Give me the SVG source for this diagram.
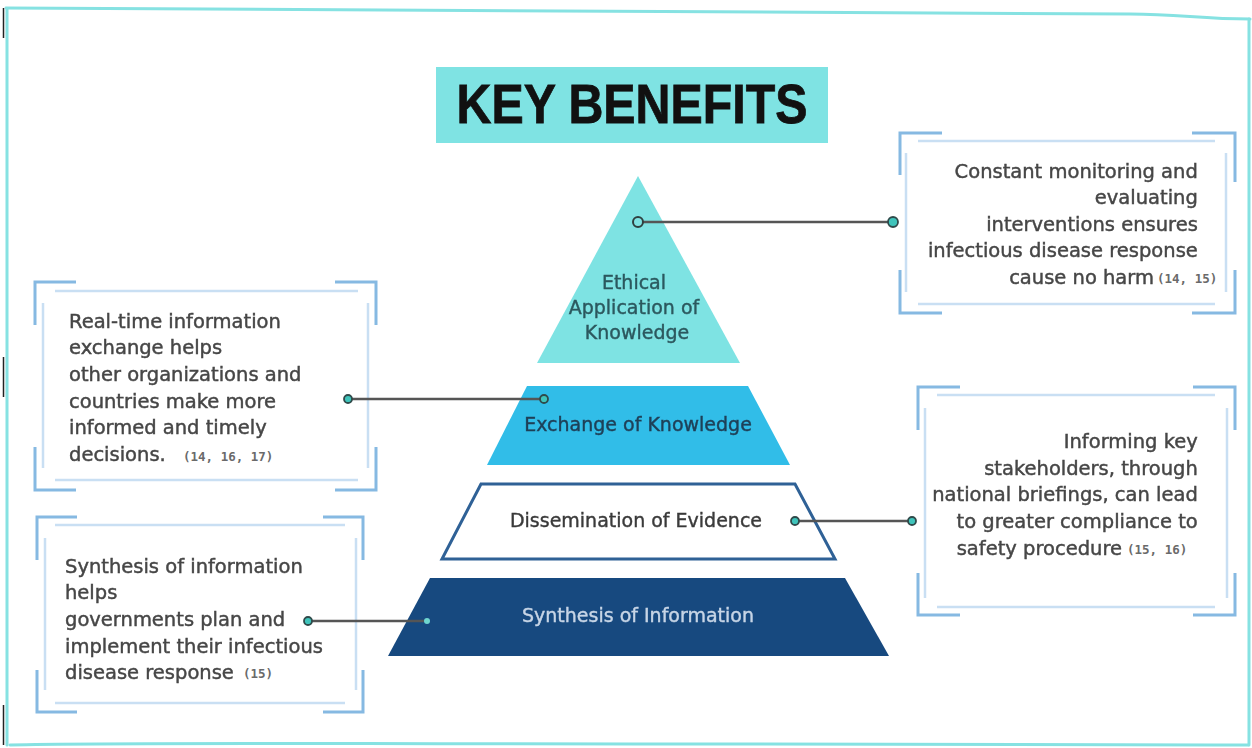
<svg xmlns="http://www.w3.org/2000/svg" width="1252" height="748" viewBox="0 0 1252 748">
  <style>
    .frame { fill: none; stroke: #86e2e2; stroke-width: 3; stroke-linecap: round; }
    .edge { fill: none; stroke: #222; stroke-width: 1.5; }
    .bracket { fill: none; stroke: #86b9e2; stroke-width: 3; }
    .inner { fill: none; stroke: #c9dff3; stroke-width: 2.5; }
    .body { font-family: "DejaVu Sans", "Liberation Sans", sans-serif; font-size: 19.5px; fill: #464646; stroke: #464646; stroke-width: 0.45; }
    .cite { font-family: "DejaVu Sans Mono", "Liberation Mono", monospace; font-size: 12.5px; font-weight: bold; fill: #6a6a6a; }
    .tier { font-family: "DejaVu Sans", "Liberation Sans", sans-serif; font-size: 19px; text-anchor: middle; stroke-width: 0.4; }
    .link { stroke: #555; stroke-width: 2.5; }
    .dot { fill: #3fc4bb; stroke: #2f4a4a; stroke-width: 1.8; }
  </style>
  <defs>
    <filter id="soft" x="-5%" y="-20%" width="110%" height="140%">
      <feGaussianBlur stdDeviation="0.55"/>
    </filter>
  </defs>

  <rect width="1252" height="748" fill="#ffffff"/>

  <!-- outer frame -->
  <g id="frame">
    <path class="frame" d="M6 8 C 150 12, 600 14, 1130 14 C 1180 14, 1200 19, 1250 19"/>
    <path class="frame" d="M7 9 L7 745"/>
    <path class="frame" d="M1249 19 L1249 745"/>
    <path class="frame" d="M10 745 C 120 742, 300 744, 700 744 S 1150 745, 1248 745" stroke-width="4"/>
    <path class="edge" d="M3.5 8 V38 M3.5 357 V397 M3.5 705 V745"/>
  </g>

  <!-- title -->
  <g id="title">
    <rect x="436" y="67" width="392" height="76" fill="#7fe3e3"/>
    <text x="632" y="123" text-anchor="middle" font-family="Liberation Sans, Arial, sans-serif" font-weight="bold" font-size="56" textLength="351" lengthAdjust="spacingAndGlyphs" fill="#111" stroke="#111" stroke-width="0.8">KEY BENEFITS</text>
  </g>

  <!-- pyramid tiers -->
  <g id="tier-ethical">
    <polygon points="638,176 740,363 537,363" fill="#7ee3e3"/>
    <text class="tier" fill="#2c585e" stroke="#2c585e" filter="url(#soft)">
      <tspan x="637" y="289">Ethical</tspan>
      <tspan x="637" y="314">Application of</tspan>
      <tspan x="637" y="339">Knowledge</tspan>
    </text>
  </g>

  <g id="tier-exchange">
    <polygon points="527,386 748,386 790,465 487,465" fill="#31bde8"/>
    <text class="tier" x="638" y="431" fill="#1f4058" stroke="#1f4058" filter="url(#soft)">Exchange of Knowledge</text>
  </g>

  <g id="tier-dissemination">
    <polygon points="481,484 795,484 835,559 442,559" fill="#ffffff" stroke="#2f6196" stroke-width="3"/>
    <text class="tier" x="636" y="527" fill="#3a3a3a" stroke="#3a3a3a" filter="url(#soft)">Dissemination of Evidence</text>
  </g>

  <g id="tier-synthesis">
    <polygon points="430,578 845,578 889,656 388,656" fill="#17497f"/>
    <text class="tier" x="638" y="622" fill="#c7d5e6" stroke="#c7d5e6" filter="url(#soft)">Synthesis of Information</text>
  </g>

  <!-- callout: top right -->
  <g id="note-ethical">
    <path class="bracket" d="M942 133 H900 V175 M1192 133 H1235 V182 M900 270 V313 H942 M1235 270 V313 H1192"/>
    <path class="inner" d="M918 141 H1215 M918 304 H1215 M906 153 V292 M1226 153 V292"/>
    <text class="body" text-anchor="end" filter="url(#soft)">
      <tspan x="1204" y="178">Constant monitoring and</tspan>
      <tspan x="1204" y="204">evaluating</tspan>
      <tspan x="1204" y="231">interventions ensures</tspan>
      <tspan x="1204" y="257">infectious disease response</tspan>
      <tspan x="1154" y="284">cause no harm</tspan>
    </text>
    <text class="cite" x="1157" y="283">(14, 15)</text>
  </g>

  <!-- callout: middle left -->
  <g id="note-exchange">
    <path class="bracket" d="M76 282 H35 V325 M335 282 H376 V325 M35 447 V490 H76 M376 447 V490 H335"/>
    <path class="inner" d="M55 291 H358 M55 480 H358 M43 303 V468 M368 303 V468"/>
    <text class="body" filter="url(#soft)">
      <tspan x="69" y="328">Real-time information</tspan>
      <tspan x="69" y="354">exchange helps</tspan>
      <tspan x="69" y="381">other organizations and</tspan>
      <tspan x="69" y="408">countries make more</tspan>
      <tspan x="69" y="434">informed and timely</tspan>
      <tspan x="69" y="461">decisions.</tspan>
    </text>
    <text class="cite" x="183" y="461">(14, 16, 17)</text>
  </g>

  <!-- callout: middle right -->
  <g id="note-dissemination">
    <path class="bracket" d="M960 387 H918 V430 M1193 387 H1235 V430 M918 573 V615 H960 M1235 573 V615 H1193"/>
    <path class="inner" d="M937 395 H1215 M937 607 H1215 M925 408 V598 M1227 408 V598"/>
    <text class="body" text-anchor="end" filter="url(#soft)">
      <tspan x="1204" y="448">Informing key</tspan>
      <tspan x="1204" y="475">stakeholders, through</tspan>
      <tspan x="1204" y="501">national briefings, can lead</tspan>
      <tspan x="1204" y="528">to greater compliance to</tspan>
      <tspan x="1122" y="555">safety procedure</tspan>
    </text>
    <text class="cite" x="1127" y="554">(15, 16)</text>
  </g>

  <!-- callout: bottom left -->
  <g id="note-synthesis">
    <path class="bracket" d="M77 517 H37 V560 M323 517 H363 V560 M37 670 V712 H77 M363 670 V712 H323"/>
    <path class="inner" d="M55 525 H345 M55 703 H345 M45 538 V690 M356 538 V690"/>
    <text class="body" filter="url(#soft)">
      <tspan x="65" y="573">Synthesis of information</tspan>
      <tspan x="65" y="599">helps</tspan>
      <tspan x="65" y="626">governments plan and</tspan>
      <tspan x="65" y="653">implement their infectious</tspan>
      <tspan x="65" y="679">disease response</tspan>
    </text>
    <text class="cite" x="243" y="678">(15)</text>
  </g>

  <!-- connectors -->
  <g id="connectors">
    <line class="link" x1="643" y1="222" x2="888" y2="222"/>
    <circle cx="638" cy="222" r="5" fill="#7ee3e3" stroke="#2f4040" stroke-width="2"/>
    <circle class="dot" cx="893" cy="222" r="5"/>

    <line class="link" x1="352" y1="399" x2="540" y2="399"/>
    <circle class="dot" cx="348" cy="399" r="4"/>
    <circle class="dot" cx="544" cy="399" r="4"/>

    <line class="link" x1="799" y1="521" x2="908" y2="521"/>
    <circle class="dot" cx="795" cy="521" r="4"/>
    <circle class="dot" cx="912" cy="521" r="4"/>

    <line class="link" x1="312" y1="621" x2="424" y2="621"/>
    <circle class="dot" cx="308" cy="621" r="4"/>
    <circle cx="427" cy="621" r="3" fill="#6fd6cf"/>
  </g>
</svg>
